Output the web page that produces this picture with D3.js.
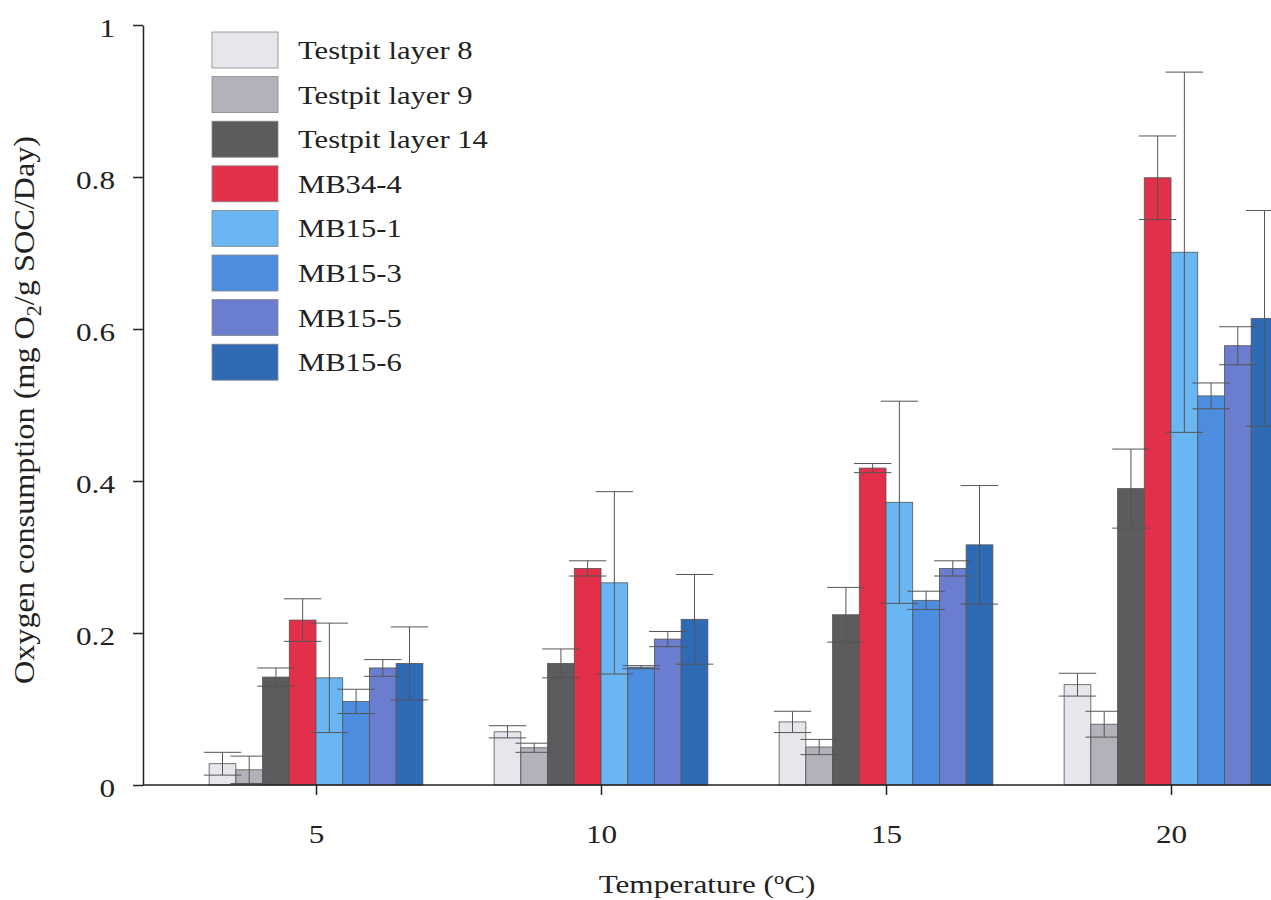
<!DOCTYPE html>
<html lang="en">
<head>
    <meta charset="UTF-8">
    <title>Oxygen consumption</title>
    <script src="https://d3js.org/d3.v7.min.js"></script>
    <style>
        body { margin: 0; background: #fff; }
        #canvas { display: block; }
        text { font-family: "Liberation Serif", "Times New Roman", serif; fill: #222; }
        .axis path, .axis line { stroke: #222; stroke-width: 1.5; }
    </style>
</head>
<body>
<svg id="canvas" width="1271" height="900"></svg>
<script>
    // data
    let temps = [5, 10, 15, 20];
    let series = ["Testpit layer 8", "Testpit layer 9", "Testpit layer 14", "MB34-4",
        "MB15-1", "MB15-3", "MB15-5", "MB15-6"];
    let colors = ["#e6e6ec", "#b2b2ba", "#5c5c5e", "#e2304a",
        "#6ab6f2", "#4c8de0", "#6b7dcf", "#2e6bb4"];
    let means = [
        [0.028, 0.070, 0.083, 0.132],
        [0.020, 0.049, 0.050, 0.080],
        [0.142, 0.160, 0.224, 0.390],
        [0.217, 0.285, 0.417, 0.799],
        [0.141, 0.266, 0.372, 0.701],
        [0.110, 0.155, 0.243, 0.512],
        [0.154, 0.192, 0.285, 0.578],
        [0.160, 0.218, 0.316, 0.614]
    ];
    let errors = [
        [0.015, 0.008, 0.014, 0.015],
        [0.018, 0.006, 0.010, 0.017],
        [0.012, 0.019, 0.036, 0.052],
        [0.028, 0.010, 0.006, 0.055],
        [0.072, 0.120, 0.133, 0.237],
        [0.016, 0.002, 0.012, 0.017],
        [0.011, 0.010, 0.010, 0.025],
        [0.048, 0.059, 0.078, 0.142]
    ];
    let yTicks = [0, 0.2, 0.4, 0.6, 0.8, 1];

    // the original figure is a little stretched sideways, text included
    let stretch = 1.2;

    let svg = d3.select("#canvas");

    let x = d3.scaleLinear().domain([2, 22]).range([145, 1285]);
    let y = d3.scaleLinear().domain([0, 1]).range([785, 25]);
    // position of each series inside a group, in temperature units
    let sub = d3.scaleBand().domain(series).range([-1.875, 1.875]);

    let rows = [];
    series.forEach(function (s, i) {
        temps.forEach(function (t, j) {
            rows.push({series: s, idx: i, temp: t, value: means[i][j], err: errors[i][j]});
        });
    });

    function barX(d) { return x(d.temp + sub(d.series)); }
    function barW(d) { return x(d.temp + sub(d.series) + sub.bandwidth()) - barX(d); }

    // bars
    svg.append("g").selectAll("rect")
        .data(rows)
        .enter().append("rect")
        .attr("x", barX)
        .attr("y", d => y(d.value))
        .attr("width", barW)
        .attr("height", d => y(0) - y(d.value))
        .attr("fill", d => colors[d.idx])
        .attr("stroke", "#555")
        .attr("stroke-width", 0.8);

    // error bars
    let eb = svg.append("g").attr("stroke", "#555").attr("stroke-width", 1);
    rows.forEach(function (d) {
        let cx = barX(d) + barW(d) / 2;
        let hw = barW(d) * 0.7;
        let top = y(d.value + d.err), bot = y(Math.max(0, d.value - d.err));
        eb.append("line").attr("x1", cx).attr("x2", cx).attr("y1", top).attr("y2", bot);
        eb.append("line").attr("x1", cx - hw).attr("x2", cx + hw).attr("y1", top).attr("y2", top);
        eb.append("line").attr("x1", cx - hw).attr("x2", cx + hw).attr("y1", bot).attr("y2", bot);
    });

    // axes
    let yAxis = svg.append("g").attr("class", "axis")
        .attr("transform", "translate(143,0)")
        .call(d3.axisLeft(y).tickValues(yTicks).tickFormat(d3.format("~g"))
            .tickSize(10).tickSizeOuter(0));
    yAxis.selectAll("text")
        .style("font-size", "26px")
        .attr("x", 0).attr("dy", "0.45em")
        .attr("transform", "translate(-28,0) scale(" + stretch + ",1)");

    let xAxis = svg.append("g").attr("class", "axis")
        .attr("transform", "translate(0,785)")
        .call(d3.axisBottom(x).tickValues(temps).tickSize(10).tickSizeOuter(0).tickPadding(30));
    xAxis.select(".domain").attr("d", "M143,0H1271");
    xAxis.selectAll("text")
        .style("font-size", "26px")
        .attr("transform", "scale(" + stretch + ",1)");

    // axis titles
    let xt = svg.append("text")
        .attr("transform", "translate(707,893) scale(" + stretch + ",1)")
        .attr("text-anchor", "middle")
        .style("font-size", "26px");
    xt.append("tspan").text("Temperature (");
    xt.append("tspan").attr("dy", -9).style("font-size", "17px").text("o");
    xt.append("tspan").attr("dy", 9).text("C)");

    let yt = svg.append("text")
        .attr("transform", "translate(34,410) rotate(-90) scale(1.29," + stretch + ")")
        .attr("text-anchor", "middle")
        .style("font-size", "25px");
    yt.append("tspan").text("Oxygen consumption (mg O");
    yt.append("tspan").attr("dy", 6).style("font-size", "17px").text("2");
    yt.append("tspan").attr("dy", -6).text("/g SOC/Day)");

    // legend
    let legend = svg.append("g").selectAll("g")
        .data(series)
        .enter().append("g")
        .attr("transform", (d, i) => "translate(212," + (32 + i * 44.6) + ")");
    legend.append("rect")
        .attr("width", 66).attr("height", 36)
        .attr("fill", (d, i) => colors[i])
        .attr("stroke", "#888").attr("stroke-width", 0.8);
    legend.append("text")
        .attr("transform", "translate(86,27) scale(" + stretch + ",1)")
        .style("font-size", "25.5px")
        .text(d => d);
</script>
</body>
</html>
